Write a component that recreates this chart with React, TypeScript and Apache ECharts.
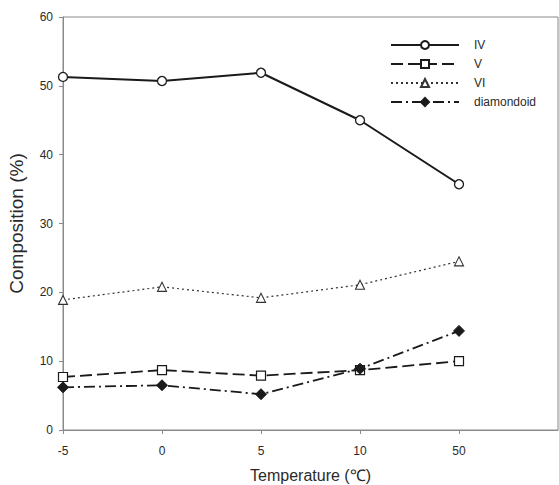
import React, { useEffect, useRef } from "react";
import * as echarts from "echarts";

const categories = ["-5", "0", "5", "10", "50", ""];
const seriesIV = [51.3, 50.7, 51.9, 45.0, 35.7];
const seriesV = [7.7, 8.7, 7.9, 8.7, 10.0];
const seriesVI = [18.9, 20.8, 19.2, 21.1, 24.5];
const seriesDiamondoid = [6.2, 6.5, 5.2, 8.9, 14.4];
const seriesNames = ["IV", "V", "VI", "diamondoid"];

export default function App() {
  const ref = useRef<HTMLDivElement>(null);
  useEffect(() => {
    document.body.style.margin = "0";
    const chart = echarts.init(ref.current!, null, { renderer: "svg" });
    const font = "Liberation Sans, Arial, sans-serif";
    const ink = "#1a1a1a";
    chart.setOption({
      animation: false,
      backgroundColor: "#ffffff",
      textStyle: { fontFamily: font },
      grid: {
        left: 63,
        top: 17,
        width: 495,
        height: 413,
        show: true,
        borderColor: "#8a8a8a",
        borderWidth: 1,
        outerBoundsMode: "none",
        containLabel: false,
      },
      legend: {
        orient: "vertical",
        left: 385,
        top: 34,
        itemWidth: 68,
        itemHeight: 10,
        itemGap: 7,
        data: seriesNames,
        textStyle: { fontSize: 12, color: "#2a2a2a", fontFamily: font, padding: [0, 0, 0, 10] },
      },
      xAxis: {
        type: "category",
        data: categories,
        boundaryGap: false,
        name: "Temperature (\u2103)",
        nameLocation: "middle",
        nameGap: 37,
        nameTextStyle: { fontSize: 16, color: "#2a2a2a", fontFamily: font },
        axisLine: { lineStyle: { color: "#8a8a8a", width: 1 } },
        axisTick: {
          show: true,
          length: 4,
          inside: false,
          interval: (i: number) => i < 5,
          lineStyle: { color: "#8a8a8a" },
        },
        axisLabel: { fontSize: 12, color: "#2a2a2a", margin: 15, fontFamily: font, interval: 0 },
        splitLine: { show: false },
      },
      yAxis: {
        type: "value",
        min: 0,
        max: 60,
        interval: 10,
        name: "Composition (%)",
        nameLocation: "middle",
        nameGap: 37,
        nameTextStyle: { fontSize: 19, color: "#2a2a2a", fontFamily: font },
        axisLine: { show: true, lineStyle: { color: "#8a8a8a", width: 1 } },
        axisTick: { show: true, length: 4, lineStyle: { color: "#8a8a8a" } },
        axisLabel: { fontSize: 12, color: "#2a2a2a", margin: 10, fontFamily: font },
        splitLine: { show: false },
      },
      series: [
        {
          name: "IV",
          type: "line",
          data: seriesIV,
          symbol: "circle",
          symbolSize: 9,
          lineStyle: { color: ink, width: 2, type: "solid" },
          itemStyle: { color: "#ffffff", borderColor: ink, borderWidth: 1.3 },
        },
        {
          name: "V",
          type: "line",
          data: seriesV,
          symbol: "rect",
          symbolSize: 9,
          lineStyle: { color: ink, width: 1.8, type: [12, 5] },
          itemStyle: { color: "#ffffff", borderColor: ink, borderWidth: 1.2 },
        },
        {
          name: "VI",
          type: "line",
          data: seriesVI,
          symbol: "triangle",
          symbolSize: 9,
          lineStyle: { color: "#333", width: 1.2, type: [2, 3] },
          itemStyle: { color: "#ffffff", borderColor: "#333", borderWidth: 1.1 },
        },
        {
          name: "diamondoid",
          type: "line",
          data: seriesDiamondoid,
          symbol: "diamond",
          symbolSize: 11,
          lineStyle: { color: ink, width: 1.8, type: [11, 4, 2, 4] },
          itemStyle: { color: ink, borderColor: ink, borderWidth: 1 },
        },
      ],
    });
    return () => chart.dispose();
  }, []);
  return <div ref={ref} style={{ width: 559, height: 485 }} />;
}
